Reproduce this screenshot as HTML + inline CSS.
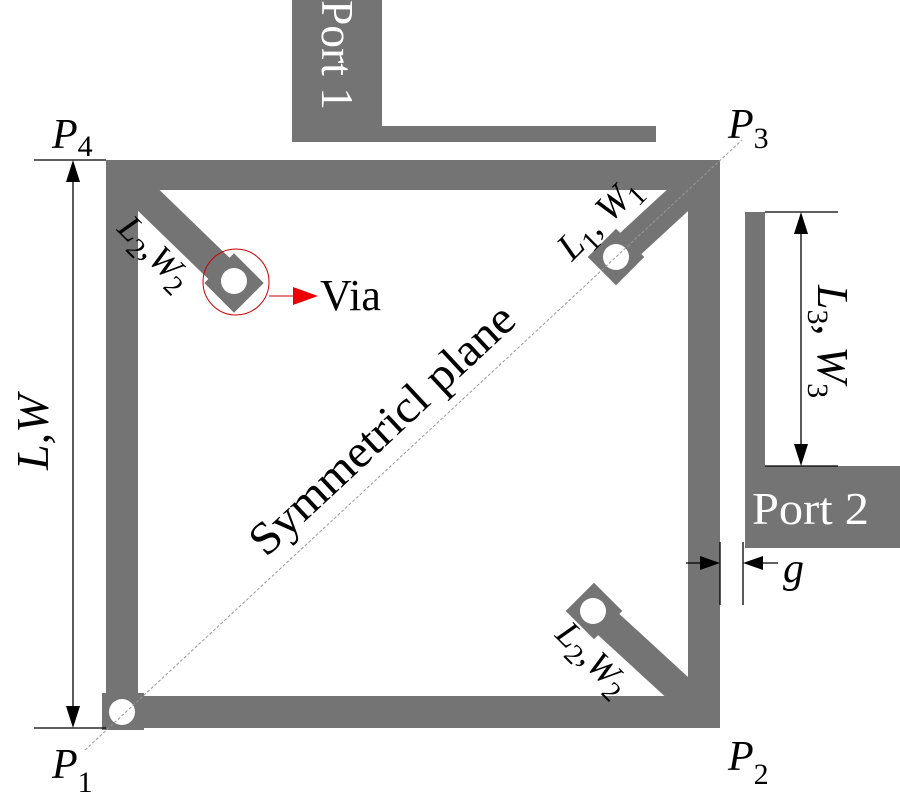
<!DOCTYPE html>
<html><head><style>body{margin:0;background:#fff}svg{display:block}text{font-family:"Liberation Serif",serif}</style></head>
<body>
<svg width="900" height="800" viewBox="0 0 900 800">
<g fill="#747474">
<rect x="292" y="0" width="90" height="140"/>
<rect x="292" y="126" width="364" height="16"/>
<rect x="106" y="160" width="614" height="30"/>
<rect x="106" y="160" width="32" height="568"/>
<rect x="688" y="160" width="32" height="568"/>
<rect x="106" y="696" width="614" height="32"/>
<rect x="745" y="212" width="20" height="256"/>
<rect x="745" y="466" width="155" height="82"/>
<rect x="102" y="693" width="42" height="37"/>
<line x1="138" y1="190" x2="233" y2="282" stroke="#747474" stroke-width="30"/>
<rect x="213" y="262" width="42" height="42" transform="rotate(45 234 283)"/>
<line x1="704" y1="176" x2="616" y2="257" stroke="#747474" stroke-width="30"/>
<rect x="596" y="237" width="40" height="40" transform="rotate(-45 616 257)"/>
<line x1="704" y1="712" x2="594" y2="611" stroke="#747474" stroke-width="30"/>
<rect x="574" y="591" width="40" height="40" transform="rotate(45 594 611)"/>
</g>
<g fill="#fff"><circle cx="234" cy="281" r="13"/><circle cx="616" cy="257" r="13"/><circle cx="593" cy="611" r="13"/><circle cx="122" cy="712" r="13"/></g>
<line x1="85" y1="750" x2="742" y2="140" stroke="#999" stroke-width="1" stroke-dasharray="3,2"/>
<circle cx="236" cy="282" r="33" fill="none" stroke="#c00" stroke-width="1"/>
<line x1="269" y1="296" x2="295" y2="296" stroke="#c00"/><path d="M293,287 L318,296 L293,305z" fill="#e00"/>
<g stroke="#000" stroke-width="1.3">
<line x1="34" y1="160" x2="106" y2="160"/><line x1="34" y1="728" x2="106" y2="728"/>
<line x1="73" y1="170" x2="73" y2="718"/>
<line x1="765" y1="212" x2="838" y2="212"/><line x1="765" y1="466" x2="838" y2="466"/>
<line x1="801" y1="222" x2="801" y2="456"/>
<line x1="720" y1="542" x2="720" y2="605"/><line x1="743" y1="542" x2="743" y2="605"/>
<line x1="686" y1="563" x2="710" y2="563"/><line x1="778" y1="563" x2="753" y2="563"/>
</g>
<g fill="#000">
<path d="M73,160 L66,182 L80,182z"/><path d="M73,728 L66,706 L80,706z"/>
<path d="M801,212 L794,234 L808,234z"/><path d="M801,466 L794,444 L808,444z"/>
<path d="M720,563 L700,556 L700,570z"/><path d="M743,563 L763,556 L763,570z"/>
</g>
<g font-size="42" fill="#000">
<text x="52" y="148" font-style="italic">P<tspan font-size="30" dy="8" font-style="normal">4</tspan></text>
<text x="728" y="138" font-style="italic">P<tspan font-size="30" dy="10" font-style="normal">3</tspan></text>
<text x="52" y="778" font-style="italic">P<tspan font-size="30" dy="14" font-style="normal">1</tspan></text>
<text x="728" y="770" font-style="italic">P<tspan font-size="30" dy="14" font-style="normal">2</tspan></text>
<text x="320" y="310" font-size="44">Via</text>
<text x="783" y="582" font-style="italic">g</text>
<text transform="translate(48,470) rotate(-90)" font-style="italic" font-size="46">L,W</text>
<text transform="translate(818,285) rotate(90)" font-size="44"><tspan font-style="italic">L</tspan><tspan font-size="30" dy="10">3</tspan><tspan dy="-10">, </tspan><tspan font-style="italic">W</tspan><tspan font-size="30" dy="10">3</tspan></text>
<text transform="translate(266,558) rotate(-43)" font-size="46" textLength="345" lengthAdjust="spacingAndGlyphs">Symmetricl plane</text>
<text transform="translate(572,262) rotate(-45)" font-size="38"><tspan font-style="italic">L</tspan><tspan font-size="28" dy="8">1</tspan><tspan dy="-8">, </tspan><tspan font-style="italic">W</tspan><tspan font-size="28" dy="8">1</tspan></text>
<text transform="translate(116,230) rotate(45)" font-size="36"><tspan font-style="italic">L</tspan><tspan font-size="28" dy="8">2</tspan><tspan dy="-8">,</tspan><tspan font-style="italic">W</tspan><tspan font-size="28" dy="8">2</tspan></text>
<text transform="translate(554,636) rotate(45)" font-size="36"><tspan font-style="italic">L</tspan><tspan font-size="28" dy="8">2</tspan><tspan dy="-8">,</tspan><tspan font-style="italic">W</tspan><tspan font-size="28" dy="8">2</tspan></text>
</g>
<g fill="#fff" font-size="46">
<text x="752" y="524" textLength="117" lengthAdjust="spacingAndGlyphs">Port 2</text>
<text transform="translate(322,0) rotate(90)" textLength="110" lengthAdjust="spacingAndGlyphs">Port 1</text>
</g>
</svg>
</body></html>
